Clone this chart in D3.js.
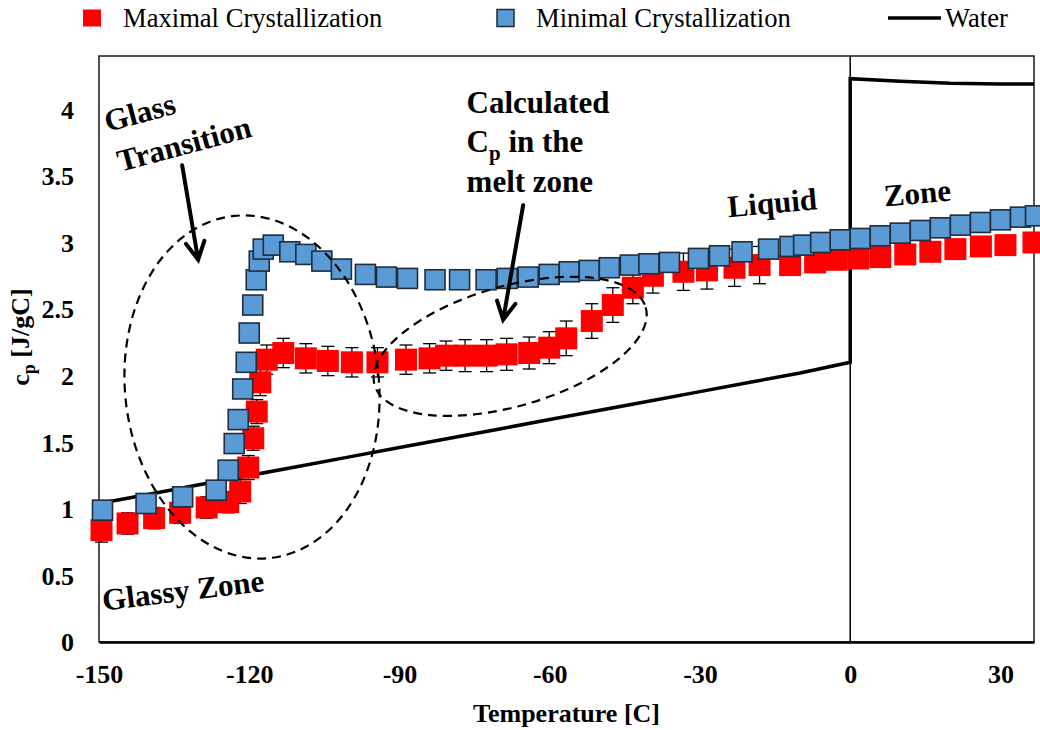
<!DOCTYPE html>
<html>
<head>
<meta charset="utf-8">
<script src="https://cdn.jsdelivr.net/npm/d3@7"></script>
<style>
  html, body { margin: 0; padding: 0; background: #fff; }
  svg { display: block; font-family: "Liberation Serif", "Times New Roman", serif; }
</style>
</head>
<body>
<svg id="chart" width="1040" height="730"></svg>
<script>
// Maximal crystallization: temperature [C], heat capacity [J/gC], error
const maxTemp = [-149.5, -144.3, -139.0, -133.8, -128.5, -124.2, -121.8, -120.2, -119.2, -118.5,
  -117.8, -116.5, -113.2, -108.7, -104.3, -99.5, -94.4, -88.7, -84.0, -80.7,
  -76.9, -72.6, -68.6, -64.1, -60.1, -56.7, -51.6, -47.4, -43.4, -39.4,
  -33.3, -28.6, -23.1, -18.1, -12.0, -7.0, -2.7, 1.6, 6.0, 11.0,
  16.0, 21.0, 26.1, 31.0, 36.6];
const maxCp = [0.84, 0.89, 0.93, 0.97, 1.01, 1.05, 1.13, 1.31, 1.53, 1.73,
  1.95, 2.12, 2.17, 2.13, 2.11, 2.10, 2.10, 2.12, 2.13, 2.15,
  2.15, 2.15, 2.16, 2.17, 2.21, 2.28, 2.41, 2.53, 2.66, 2.75,
  2.78, 2.79, 2.81, 2.83, 2.83, 2.85, 2.87, 2.88, 2.89, 2.91,
  2.93, 2.95, 2.97, 2.98, 3.00];
const maxErr = [0.09, 0.08, 0.08, 0.08, 0.08, 0.08, 0.09, 0.09, 0.09, 0.09,
  0.10, 0.11, 0.11, 0.11, 0.11, 0.11, 0.11, 0.11, 0.11, 0.11,
  0.12, 0.12, 0.12, 0.12, 0.12, 0.13, 0.13, 0.13, 0.12, 0.13,
  0.14, 0.14, 0.14, 0.14, 0.07, 0.07, 0.07, 0.07, 0.07, 0.07,
  0.07, 0.07, 0.07, 0.07, 0.07];

// Minimal crystallization
const minTemp = [-149.3, -140.6, -133.3, -126.6, -124.2, -123.0, -122.2, -121.3, -120.6, -120.0,
  -119.3, -118.6, -118.0, -117.2, -115.2, -111.9, -108.7, -105.5, -101.6, -96.8,
  -92.6, -88.4, -82.9, -78.0, -72.7, -68.5, -64.3, -60.1, -56.1, -52.1,
  -48.1, -43.9, -40.2, -36.1, -30.3, -26.1, -21.6, -16.3, -12.0, -9.3,
  -5.9, -2.0, 2.0, 6.0, 10.0, 14.0, 18.0, 22.0, 26.0, 30.0,
  34.0, 37.0];
const minCp = [0.99, 1.04, 1.09, 1.14, 1.29, 1.49, 1.67, 1.90, 2.10, 2.32,
  2.53, 2.72, 2.86, 2.95, 2.98, 2.93, 2.91, 2.86, 2.80, 2.76,
  2.74, 2.73, 2.72, 2.72, 2.72, 2.73, 2.74, 2.76, 2.78, 2.79,
  2.81, 2.83, 2.84, 2.85, 2.88, 2.90, 2.93, 2.95, 2.97, 2.98,
  3.00, 3.02, 3.03, 3.05, 3.07, 3.09, 3.11, 3.13, 3.15, 3.17,
  3.19, 3.20];

// Water reference curve (ice below 0 C, liquid above)
const waterTemp = [-150, -140, -130, -120, -110, -100, -90, -80, -70, -60, -50, -40, -30, -20, -10, 0,
  0, 10, 20, 30, 36.7];
const waterCp = [1.04, 1.11, 1.18, 1.25, 1.32, 1.39, 1.46, 1.53, 1.60, 1.67, 1.74, 1.81, 1.88, 1.95, 2.02, 2.10,
  4.23, 4.21, 4.195, 4.19, 4.19];

const xTicks = [-150, -120, -90, -60, -30, 0, 30];
const xTickLabels = ["-150", "-120", "-90", "-60", "-30", "0", "30"];
const yTicks = [0, 0.5, 1, 1.5, 2, 2.5, 3, 3.5, 4];
const yTickLabels = ["0", "0.5", "1", "1.5", "2", "2.5", "3", "3.5", "4"];

const svg = d3.select("#chart");
const x = d3.scaleLinear().domain([-150, 36.7]).range([99, 1034]);
const y = d3.scaleLinear().domain([0, 4.4]).range([642, 56]);

// Plot frame
svg.append("rect")
  .attr("x", x(-150)).attr("y", y(4.4))
  .attr("width", x(36.7) - x(-150)).attr("height", y(0) - y(4.4))
  .attr("fill", "none").attr("stroke", "#1a1a1a").attr("stroke-width", 1.5);

// Axes
const xAxis = svg.append("g").attr("transform", `translate(0,${y(0)})`)
  .call(d3.axisBottom(x).tickValues(xTicks).tickSize(0)
    .tickFormat((d, i) => xTickLabels[i]));
xAxis.select(".domain").attr("stroke", "#000").attr("stroke-width", 2.5);
xAxis.selectAll("text")
  .attr("y", 41).attr("dy", 0)
  .attr("font-family", "Liberation Serif, serif")
  .attr("font-size", 26).attr("font-weight", "bold").attr("fill", "#000");

const yAxis = svg.append("g").attr("transform", `translate(${x(-150)},0)`)
  .call(d3.axisLeft(y).tickValues(yTicks).tickSize(0).tickPadding(25)
    .tickFormat((d, i) => yTickLabels[i]));
yAxis.select(".domain").remove();
yAxis.selectAll("text")
  .attr("dy", "0.34em")
  .attr("font-family", "Liberation Serif, serif")
  .attr("font-size", 26).attr("font-weight", "bold").attr("fill", "#000");

// Axis titles
svg.append("text")
  .attr("x", (x(-150) + x(36.7)) / 2).attr("y", 722)
  .attr("text-anchor", "middle").attr("font-size", 26).attr("font-weight", "bold")
  .text("Temperature [C]");

const yTitle = svg.append("text")
  .attr("transform", `translate(29,${(y(0) + y(4.4)) / 2 - 12}) rotate(-90)`)
  .attr("text-anchor", "middle").attr("font-size", 26).attr("font-weight", "bold");
yTitle.append("tspan").text("c");
yTitle.append("tspan").attr("font-size", 18).attr("dy", 6).text("p");
yTitle.append("tspan").attr("dy", -6).text(" [J/gC]");

// Thin divider at 0 C
svg.append("line")
  .attr("x1", x(0)).attr("x2", x(0)).attr("y1", y(4.4)).attr("y2", y(0))
  .attr("stroke", "#000").attr("stroke-width", 1.5);

// Water line
const waterData = waterTemp.map((t, i) => [t, waterCp[i]]);
svg.append("path")
  .datum(waterData)
  .attr("d", d3.line().x(d => x(d[0])).y(d => y(d[1])))
  .attr("fill", "none").attr("stroke", "#000").attr("stroke-width", 3.5)
  .attr("stroke-linejoin", "miter");

// Maximal crystallization: error bars then markers
const maxData = maxTemp.map((t, i) => ({ t, v: maxCp[i], e: maxErr[i] }));
const eb = svg.append("g").attr("stroke", "#000").attr("stroke-width", 1.3);
maxData.forEach(d => {
  const cx = x(d.t), y1 = y(d.v + d.e), y2 = y(d.v - d.e);
  eb.append("line").attr("x1", cx).attr("x2", cx).attr("y1", y1).attr("y2", y2);
  eb.append("line").attr("x1", cx - 6.5).attr("x2", cx + 6.5).attr("y1", y1).attr("y2", y1);
  eb.append("line").attr("x1", cx - 6.5).attr("x2", cx + 6.5).attr("y1", y2).attr("y2", y2);
});
const redSize = 22;
svg.append("g").selectAll("rect").data(maxData).join("rect")
  .attr("x", d => x(d.t) - redSize / 2).attr("y", d => y(d.v) - redSize / 2)
  .attr("width", redSize).attr("height", redSize)
  .attr("fill", "#ff0000");

// Minimal crystallization markers
const minData = minTemp.map((t, i) => ({ t, v: minCp[i] }));
const blueSize = 20;
svg.append("g").selectAll("rect").data(minData).join("rect")
  .attr("x", d => x(d.t) - blueSize / 2).attr("y", d => y(d.v) - blueSize / 2)
  .attr("width", blueSize).attr("height", blueSize)
  .attr("fill", "#5b9bd5").attr("stroke", "#1f2d3d").attr("stroke-width", 1.6);

// Dashed regions
const regions = [
  { t: -119.45, v: 1.915, rx: 127, ry: 172, rot: -6 },
  { t: -67.9, v: 2.22, rx: 141, ry: 60, rot: -16 }
];
svg.append("g").selectAll("ellipse").data(regions).join("ellipse")
  .attr("transform", d => `translate(${x(d.t)},${y(d.v)}) rotate(${d.rot})`)
  .attr("rx", d => d.rx).attr("ry", d => d.ry)
  .attr("fill", "none").attr("stroke", "#000").attr("stroke-width", 2.2)
  .attr("stroke-dasharray", "9,6");

// Arrows
const arrows = [
  { t0: -133.4, v0: 3.58, t1: -130.2, v1: 2.87 },
  { t0: -65.3, v0: 3.28, t1: -69.3, v1: 2.42 }
];
arrows.forEach(a => {
  const x0 = x(a.t0), y0 = y(a.v0), x1 = x(a.t1), y1 = y(a.v1);
  const ang = Math.atan2(y1 - y0, x1 - x0);
  const len = 20, spread = Math.PI / 6.5;
  const hx1 = x1 - len * Math.cos(ang - spread), hy1 = y1 - len * Math.sin(ang - spread);
  const hx2 = x1 - len * Math.cos(ang + spread), hy2 = y1 - len * Math.sin(ang + spread);
  svg.append("path")
    .attr("d", `M${x0},${y0}L${x1},${y1}M${hx1},${hy1}L${x1},${y1}L${hx2},${hy2}`)
    .attr("fill", "none").attr("stroke", "#000").attr("stroke-width", 4)
    .attr("stroke-linecap", "round").attr("stroke-linejoin", "miter");
});

// Annotations
const notes = [
  { t: -148.3, v: 3.83, rot: -15, text: "Glass" },
  { t: -145.7, v: 3.53, rot: -15, text: "Transition" },
  { t: -149.1, v: 0.235, rot: -7, text: "Glassy Zone" },
  { t: -24.3, v: 3.19, rot: -5, text: "Liquid" },
  { t: 6.9, v: 3.27, rot: -5, text: "Zone" },
  { t: -76.6, v: 3.97, rot: 0, text: "Calculated" },
  { t: -76.6, v: 3.38, rot: 0, text: "melt zone" }
];
svg.append("g").selectAll("text").data(notes).join("text")
  .attr("transform", d => `translate(${x(d.t)},${y(d.v)}) rotate(${d.rot})`)
  .attr("font-size", 31).attr("font-weight", "bold").attr("fill", "#000")
  .text(d => d.text);

const cpNote = svg.append("text")
  .attr("x", x(-76.6)).attr("y", y(3.68))
  .attr("font-size", 31).attr("font-weight", "bold");
cpNote.append("tspan").text("C");
cpNote.append("tspan").attr("font-size", 21).attr("dy", 8).text("p");
cpNote.append("tspan").attr("dy", -8).text(" in the");

// Legend
const legend = svg.append("g").attr("font-size", 26.6).attr("fill", "#000");
legend.append("rect").attr("x", 83).attr("y", 9.5).attr("width", 18).attr("height", 17).attr("fill", "#ff0000");
legend.append("text").attr("x", 123).attr("y", 27).text("Maximal Crystallization");
legend.append("rect").attr("x", 497).attr("y", 9.5).attr("width", 17).attr("height", 17)
  .attr("fill", "#5b9bd5").attr("stroke", "#1f2d3d").attr("stroke-width", 1.5);
legend.append("text").attr("x", 536).attr("y", 27).text("Minimal Crystallization");
legend.append("line").attr("x1", 888).attr("x2", 941).attr("y1", 18).attr("y2", 18)
  .attr("stroke", "#000").attr("stroke-width", 3.5);
legend.append("text").attr("x", 945).attr("y", 27).text("Water");
</script>
</body>
</html>
